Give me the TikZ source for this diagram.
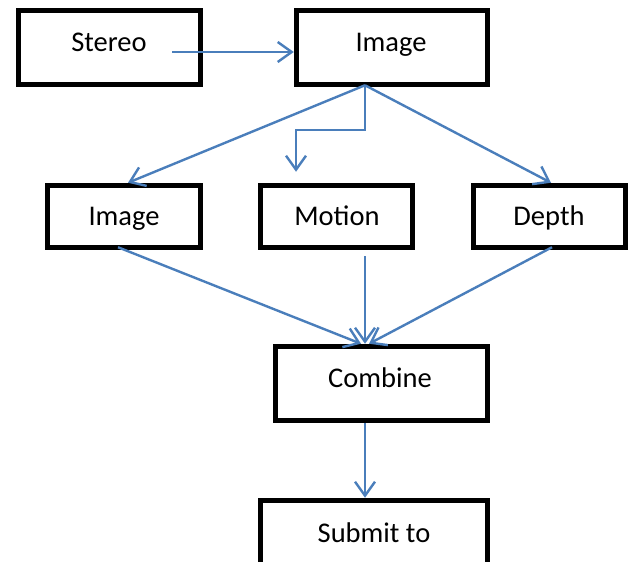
\documentclass[tikz,border=0pt]{standalone}
\usepackage{fontspec}
\setmainfont{Carlito}
\usetikzlibrary{arrows.meta}
\definecolor{linkblue}{HTML}{4A7EBB}
\tikzstyle{box}=[draw=black,line width=5.5pt,inner sep=0pt]
\tikzstyle{word}=[anchor=base,inner sep=0pt,font=\fontsize{28.5}{34}\selectfont]
\tikzstyle{link}=[draw=linkblue,line width=2.4pt,-{Straight Barb[length=14pt,width=20pt]}]

\begin{document}
\begin{tikzpicture}[x=1pt,y=-1pt]
\clip (0,0) rectangle (630,562);
% top row
\node[box,minimum width=182pt,minimum height=74pt] (stereo) at (109.5,47.5) {};
\node[box,minimum width=191pt,minimum height=74pt] (image) at (392,47.5) {};
\node[word] (stereo-t) at (109,52) {Stereo};
\node[word] (image-t) at (391,52) {Image};
% middle row
\node[box,minimum width=153pt,minimum height=62pt] (imagetwo) at (124,216.5) {};
\node[box,minimum width=152pt,minimum height=62pt] (motion) at (336.5,216.5) {};
\node[box,minimum width=152pt,minimum height=62pt] (depth) at (549.5,216.5) {};
\node[word] (imagetwo-t) at (124,225) {Image};
\node[word] (motion-t) at (337,225) {Motion};
\node[word] (depth-t) at (549,225) {Depth};
% bottom
\node[box,minimum width=212pt,minimum height=74pt] (combine) at (381.5,383.5) {};
\node[box,minimum width=227pt,minimum height=74pt] (submit) at (374,537.5) {};
\node[word] (combine-t) at (380,387) {Combine};
\node[word] (submit-t) at (374,542) {Submit to};
\coordinate (fork) at ([xshift=-27pt,yshift=2pt]image.south);
\coordinate (merge) at ([xshift=-16.5pt]combine.north);
% links
\draw[link] ([xshift=62.5pt,yshift=-4.5pt]stereo.center) -- ([yshift=-4.5pt]image.west);
\draw[link] (fork) -- ([xshift=4pt]imagetwo.north);
\draw[link] (fork) -- ++(0,45) -| ([xshift=-40.5pt,yshift=11pt]motion.north);
\draw[link] (fork) -- ([xshift=1.5pt]depth.north);
\draw[link] ([xshift=-6pt,yshift=3pt]imagetwo.south) -- ([xshift=-4pt]merge);
\draw[link] ([xshift=28.5pt,yshift=-6pt]motion.south) -- (merge);
\draw[link] ([xshift=2.5pt,yshift=3pt]depth.south) -- ([xshift=4pt]merge);
\draw[link] ([xshift=-16.5pt]combine.south) -- ([xshift=-9pt]submit.north);
\end{tikzpicture}
\end{document}
